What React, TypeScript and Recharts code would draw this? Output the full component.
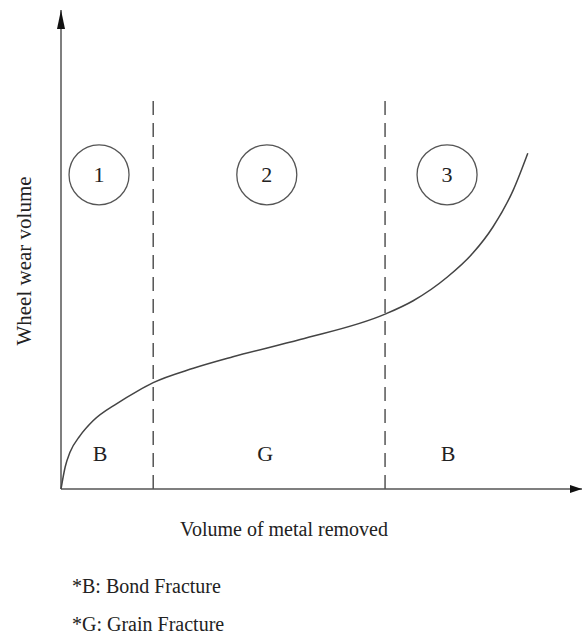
import {
  ComposedChart,
  Line,
  Scatter,
  XAxis,
  YAxis,
  ReferenceLine,
  ReferenceDot,
} from 'recharts';

// wear curve (x: % of metal removed, y: % of wheel wear)
const wearX = [0, 0.8, 1.7, 3.7, 6.1, 10.8, 14.6, 17.7, 25.4, 33.0, 45.9, 62.2, 67.6, 74.1, 79.1, 82.9, 86.8, 89.6];
const wearY = [0, 4.6, 7.6, 11.2, 14.2, 17.9, 20.4, 22.2, 25.2, 27.6, 31.2, 36.5, 39.3, 44.2, 49.3, 54.7, 62.4, 70.1];

// stage boundaries (dashed)
const stageBounds = [17.7, 62.2];
const boundTop = 81.8;

// stage markers
const stageX = [7.3, 39.5, 74.1];
const stageY = 65.6;
const stageLabels = ['1', '2', '3'];

// fracture type per stage
const fractureX = [7.5, 39.2, 74.3];
const fractureY = 7.5;
const fractureLabels = ['B', 'G', 'B'];

const curveData = wearX.map((x, i) => ({ x, y: wearY[i] }));
const stageData = stageX.map((x, i) => ({ x, y: stageY, label: stageLabels[i] }));
const fractureData = fractureX.map((x, i) => ({ x, y: fractureY, label: fractureLabels[i] }));

const INK = '#555';
const TEXT = '#222';
const FONT = '"Liberation Serif", "Times New Roman", serif';

const StageCircle = (props: any) => {
  const { cx, cy, payload } = props;
  return (
    <g>
      <circle cx={cx} cy={cy} r={30} fill="none" stroke={INK} strokeWidth={1.3} />
      <text x={cx} y={cy} dy="0.35em" textAnchor="middle" fontFamily={FONT} fontSize={22} fill={TEXT}>
        {payload.label}
      </text>
    </g>
  );
};

const FractureLabel = (props: any) => {
  const { cx, cy, payload } = props;
  return (
    <text x={cx} y={cy} dy="0.35em" textAnchor="middle" fontFamily={FONT} fontSize={22} fill={TEXT}>
      {payload.label}
    </text>
  );
};

const ArrowUp = (props: any) => {
  const { cx, cy } = props;
  return <polygon points={`${cx},${cy} ${cx - 4},${cy + 19} ${cx + 4},${cy + 19}`} fill="#111" />;
};

const ArrowRight = (props: any) => {
  const { cx, cy } = props;
  return <polygon points={`${cx},${cy} ${cx - 12},${cy - 4} ${cx - 12},${cy + 4}`} fill="#111" />;
};

export default function App() {
  return (
    <div style={{ position: 'absolute', left: 0, top: 0, width: 582, height: 637, background: '#fff' }}>
      <ComposedChart
        width={582}
        height={637}
        data={curveData}
        margin={{ top: 10, right: 0, bottom: 148, left: 61 }}
      >
        <XAxis type="number" dataKey="x" domain={[0, 100]} hide />
        <YAxis type="number" dataKey="y" domain={[0, 100]} hide />

        <ReferenceLine y={0} stroke={INK} strokeWidth={1.5} />
        <ReferenceLine x={0} stroke={INK} strokeWidth={1.5} />
        {stageBounds.map((b) => (
          <ReferenceLine
            key={b}
            segment={[{ x: b, y: 0 }, { x: b, y: boundTop }]}
            stroke={INK}
            strokeWidth={1.5}
            strokeDasharray="14 8"
          />
        ))}
        <ReferenceDot x={0} y={100} r={0} shape={ArrowUp} />
        <ReferenceDot x={100} y={0} r={0} shape={ArrowRight} />

        <Line
          type="monotone"
          dataKey="y"
          stroke="#444"
          strokeWidth={1.5}
          dot={false}
          isAnimationActive={false}
        />
        <Scatter data={stageData} shape={StageCircle} isAnimationActive={false} />
        <Scatter data={fractureData} shape={FractureLabel} isAnimationActive={false} />
      </ComposedChart>

      <svg
        width={582}
        height={637}
        style={{ position: 'absolute', left: 0, top: 0, pointerEvents: 'none' }}
        fontFamily={FONT}
        fill={TEXT}
      >
        <text x={284} y={536} textAnchor="middle" fontSize={20}>
          Volume of metal removed
        </text>
        <text x={31} y={261} textAnchor="middle" fontSize={21} transform="rotate(-90 31 261)">
          Wheel wear volume
        </text>
        <text x={72} y={593} fontSize={20}>
          *B: Bond Fracture
        </text>
        <text x={72} y={631} fontSize={20}>
          *G: Grain Fracture
        </text>
      </svg>
    </div>
  );
}
